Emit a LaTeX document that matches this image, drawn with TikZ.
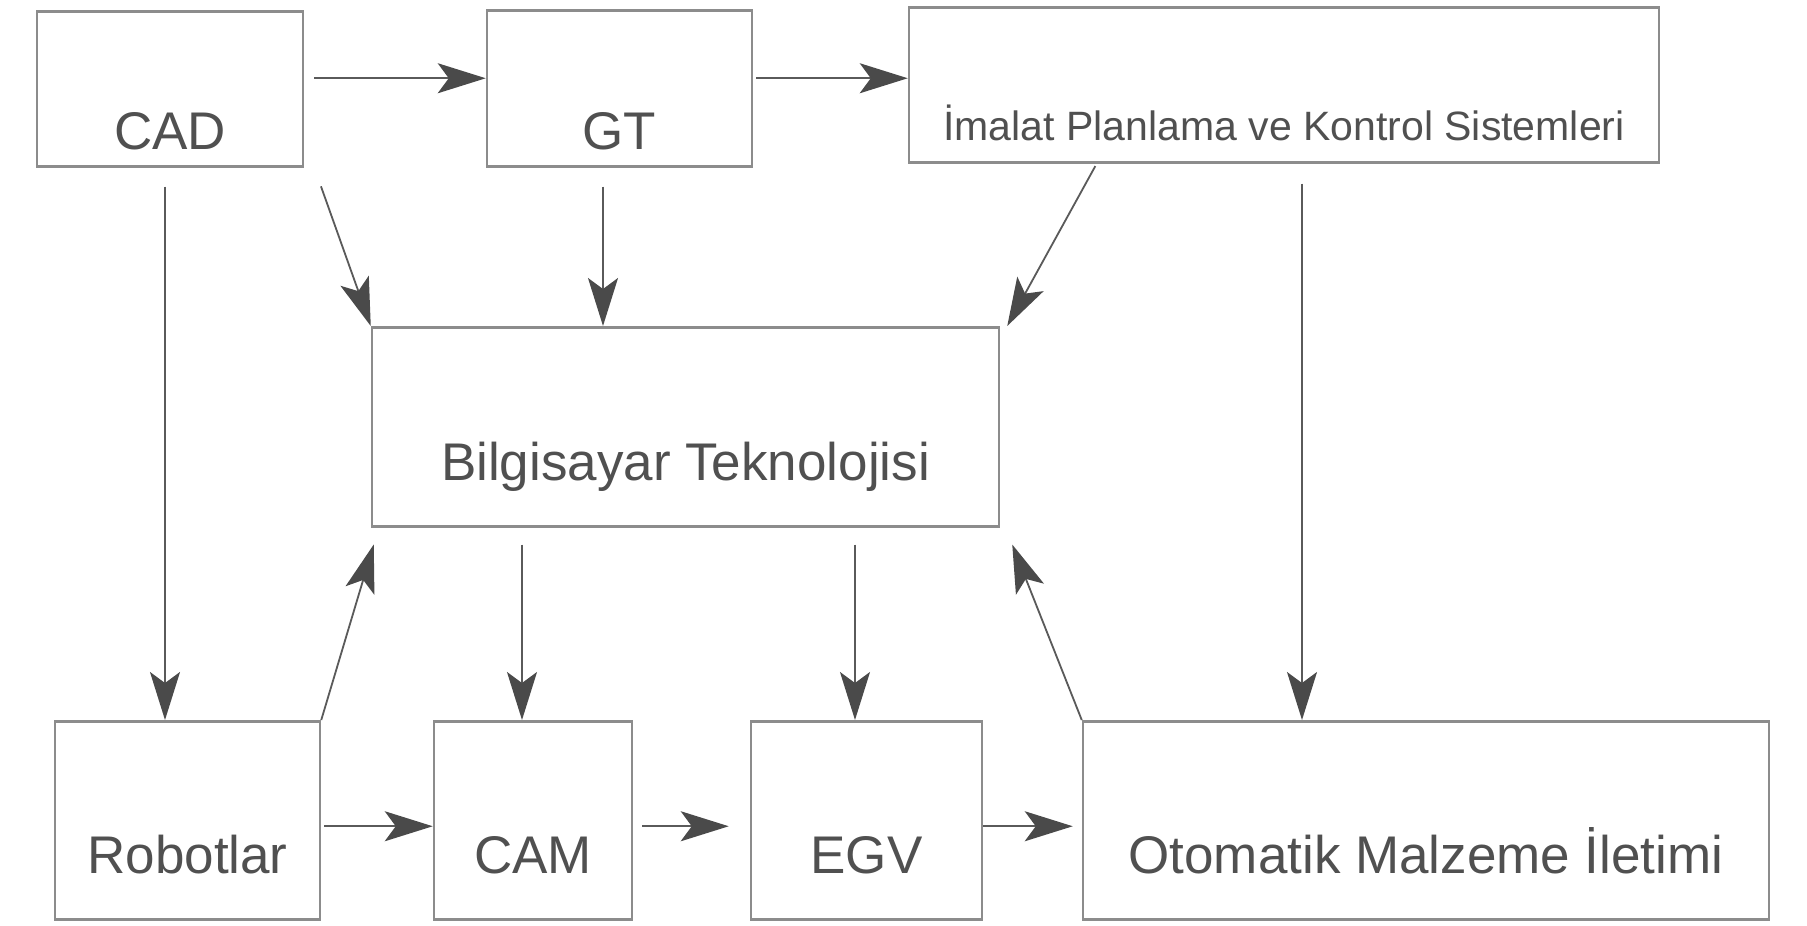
\documentclass[tikz,border=0pt]{standalone}
\usepackage{fontspec}
\setmainfont{Liberation Sans}
\usetikzlibrary{arrows.meta}
\definecolor{boxc}{HTML}{8C8C8C}
\definecolor{arrc}{HTML}{5A5A5A}
\definecolor{headc}{HTML}{4A4A4A}
\definecolor{txtc}{HTML}{505050}
\begin{document}
\begin{tikzpicture}[x=1pt,y=-1pt,
  box/.style={draw=boxc, line width=2.5pt, inner sep=0pt, text=txtc,
    font=\fontsize{53}{60}\selectfont, anchor=north},
  arr/.style={draw=arrc, line width=1.8pt,
    -{Stealth[length=48pt,width=30pt,inset=11pt,fill=headc,color=headc]}}]
\useasboundingbox (0,0) rectangle (1807,926);
\fill[white] (0,0) rectangle (1807,926);

\node[box, minimum width=266pt, text height=138pt, text depth=17pt] (CAD) at (170,10) {CAD};
\node[box, minimum width=265pt, text height=139pt, text depth=17pt] (GT) at (619.5,9) {GT};
\node[box, minimum width=750pt, text height=133.5pt, text depth=21.5pt,
      font=\fontsize{41}{48}\selectfont] (IPKS) at (1284,6) {İmalat Planlama ve Kontrol Sistemleri};
\node[box, minimum width=627pt, text height=153pt, text depth=46pt] (Bilg) at (685.5,326) {Bilgisayar Teknolojisi};
\node[box, minimum width=265pt, text height=152pt, text depth=46pt] (Rob) at (187.5,720) {Robotlar};
\node[box, minimum width=198pt, text height=152pt, text depth=46pt] (CAM) at (533,720) {CAM};
\node[box, minimum width=231pt, text height=152pt, text depth=46pt] (EGV) at (866.5,720) {EGV};
\node[box, minimum width=686pt, text height=152pt, text depth=46pt] (Otom) at (1426,720) {Otomatik Malzeme İletimi};

% top row
\draw[arr, shorten <=10pt] ([yshift=10.5pt]CAD.east) -- ([yshift=10pt]GT.west);
\draw[arr, shorten <=3pt] ([yshift=10pt]GT.east) -- ([yshift=6.5pt]IPKS.west);
% from top row down
\draw[arr, shorten <=19pt] ([xshift=-5pt]CAD.south) -- ([xshift=-5pt]CAD.south |- Rob.north);
\draw[arr, shorten <=20pt] ([xshift=10pt]CAD.south east) -- (Bilg.north west);
\draw[arr, shorten <=19pt] ([xshift=-16.5pt]GT.south) -- ([xshift=-16.5pt]GT.south |- Bilg.north);
\draw[arr, shorten <=3pt] ([xshift=189pt]IPKS.south west) -- ([xshift=7pt]Bilg.north east);
\draw[arr, shorten <=20pt] ([xshift=18pt]IPKS.south) -- ([xshift=18pt]IPKS.south |- Otom.north);
% from Bilgisayar down
\draw[arr, shorten <=17pt] ([xshift=-163.5pt]Bilg.south) -- ([xshift=-163.5pt]Bilg.south |- CAM.north);
\draw[arr, shorten <=17pt] ([xshift=169.5pt]Bilg.south) -- ([xshift=169.5pt]Bilg.south |- EGV.north);
% up to Bilgisayar
\draw[arr] (Rob.north east) -- ([xshift=3pt,yshift=-17pt]Bilg.south west);
\draw[arr] (Otom.north west) -- ([xshift=12pt,yshift=-17pt]Bilg.south east);
% bottom row
\draw[arr, shorten <=3pt] ([yshift=-6pt]Rob.east) -- ([yshift=-6pt]CAM.west);
\draw[arr, shorten <=9pt, shorten >=21pt] ([yshift=-6pt]CAM.east) -- ([yshift=-6pt]EGV.west);
\draw[arr, shorten >=9pt] ([yshift=-6pt]EGV.east) -- ([yshift=-6pt]Otom.west);
\end{tikzpicture}
\end{document}
